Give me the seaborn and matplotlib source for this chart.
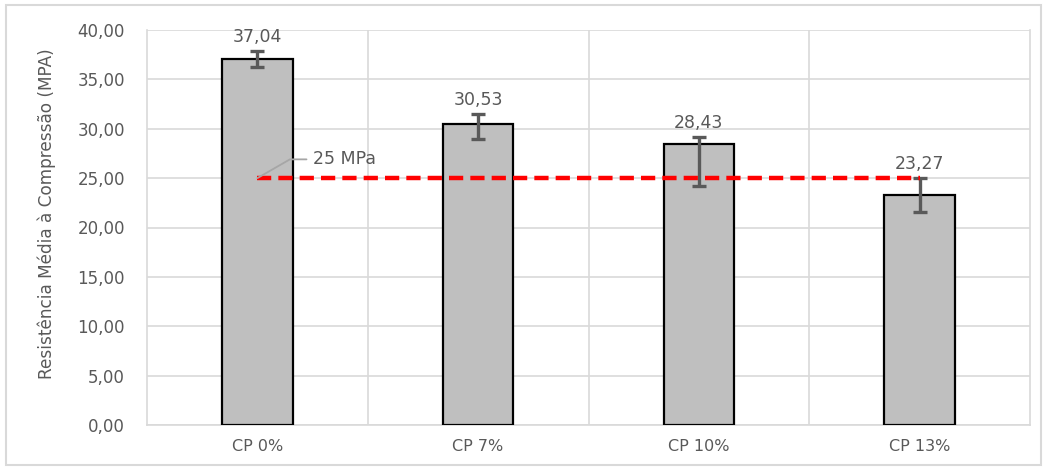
import matplotlib
matplotlib.use("Agg")
import matplotlib.pyplot as plt
import seaborn as sns
import pandas as pd
from matplotlib.patches import Rectangle

# Compressive strength results
categories = ["CP 0%", "CP 7%", "CP 10%", "CP 13%"]
strength = [37.04, 30.53, 28.43, 23.27]
err_low = [0.76, 1.55, 4.20, 1.75]
err_high = [0.86, 0.93, 0.70, 1.75]
reference_mpa = 25.0
reference_label = "25 MPa"
y_ticks = [0, 5, 10, 15, 20, 25, 30, 35, 40]

sns.set_theme(style="white")
plt.rcParams["font.family"] = ["DejaVu Sans"]

text_color = "#595959"
grid_color = "#D9D9D9"

df = pd.DataFrame({"grupo": categories, "resistencia": strength})

fig = plt.figure(figsize=(10.46, 4.70), dpi=100)
ax = fig.add_axes([147 / 1046, 1 - 425 / 470, (1030 - 147) / 1046, (425 - 30) / 470])

sns.barplot(data=df, x="grupo", y="resistencia", color="#BFBFBF",
            width=0.32, edgecolor="black", linewidth=1.6,
            saturation=1, errorbar=None, ax=ax, zorder=3)

xs = list(range(len(categories)))
ax.errorbar(xs, strength, yerr=[err_low, err_high], fmt="none",
            ecolor="#595959", elinewidth=2.4, capsize=5, capthick=2.4, zorder=4)

# Value labels above each bar
for x, v, eh in zip(xs, strength, err_high):
    ax.text(x, v + eh + 0.5, f"{v:.2f}".replace(".", ","), ha="center", va="bottom",
            fontsize=12.5, color=text_color, zorder=6)

# Reference line at 25 MPa
ax.plot([xs[0], xs[-1]], [reference_mpa, reference_mpa], color="#FF0000",
        linestyle=(0, (3.2, 1.6)), linewidth=3.2, zorder=5)
ax.annotate(reference_label, xy=(xs[0], reference_mpa), xytext=(0.25, 26.9),
            fontsize=12.5, color=text_color, va="center", ha="left",
            arrowprops=dict(arrowstyle="-", color="#A6A6A6", lw=1.3,
                            shrinkA=2, shrinkB=0,
                            connectionstyle="angle,angleA=0,angleB=30,rad=0"),
            zorder=6)

ax.set_ylim(0, 40)
ax.set_xlim(-0.5, len(categories) - 0.5)
ax.set_yticks(y_ticks)
ax.set_yticklabels([f"{t:.2f}".replace(".", ",") for t in y_ticks])
ax.yaxis.grid(True, color=grid_color, linewidth=1.2, zorder=0)
for b in [0.5, 1.5, 2.5]:
    ax.axvline(b, color=grid_color, linewidth=1.2, zorder=0)
for s in ax.spines.values():
    s.set_color(grid_color)
    s.set_linewidth(1.2)
ax.spines["top"].set_visible(False)

ax.tick_params(axis="y", labelsize=12, colors=text_color, length=0, pad=16)
ax.tick_params(axis="x", labelsize=11.5, colors=text_color, length=0, pad=10)
ax.set_xlabel("")
ax.set_ylabel("Resistência Média à Compressão (MPA)", fontsize=12.2,
              color=text_color)
ax.yaxis.set_label_coords(-0.103, 0.535)

# Outer frame around the chart
fig.patches.append(Rectangle((6 / 1046, 5 / 470), (1041 - 6) / 1046, (465 - 5) / 470,
                             transform=fig.transFigure, fill=False,
                             edgecolor=grid_color, linewidth=1.5))

fig.savefig("out.png", dpi=100, facecolor="white")
